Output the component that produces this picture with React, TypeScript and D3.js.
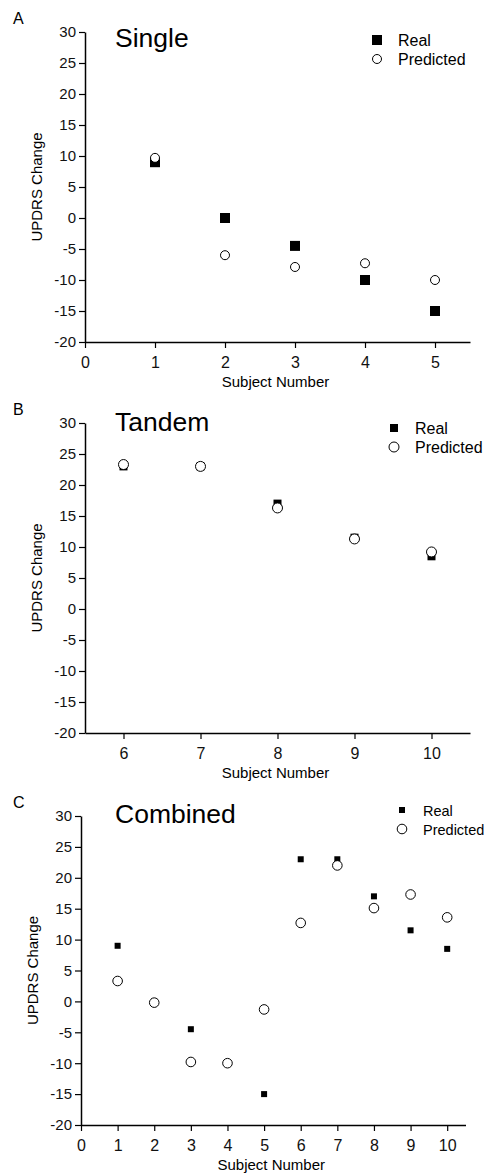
import React, { useEffect, useRef } from 'react';
import * as d3 from 'd3';

// values
const subjectsA = [1, 2, 3, 4, 5];
const realA = [9, 0, -4.5, -10, -15];
const predictedA = [9.7, -6, -7.9, -7.3, -10];

const subjectsB = [6, 7, 8, 9, 10];
const realB = [23, 23, 17, 11.5, 8.5];
const predictedB = [23.3, 23, 16.3, 11.3, 9.2];

const subjectsC = [1, 2, 3, 4, 5, 6, 7, 8, 9, 10];
const realC = [9, 0, -4.5, -10, -15, 23, 23, 17, 11.5, 8.5];
const predictedC = [3.3, -0.2, -9.8, -10, -1.3, 12.7, 22, 15.1, 17.3, 13.6];

const yTicks = [30, 25, 20, 15, 10, 5, 0, -5, -10, -15, -20];

const panels = [
    {
        letter: 'A', title: 'Single', subjects: subjectsA, real: realA, predicted: predictedA,
        xDomain: [0, 5.5], xTicks: [0, 1, 2, 3, 4, 5], left: 85, right: 470, top: 32, bottom: 342,
        sq: 10, r: 4.5, legendX: 377, legendY: 40, titleY: 47, legendFont: 16,
    },
    {
        letter: 'B', title: 'Tandem', subjects: subjectsB, real: realB, predicted: predictedB,
        xDomain: [5.5, 10.5], xTicks: [6, 7, 8, 9, 10], left: 85, right: 470, top: 423, bottom: 733,
        sq: 8, r: 5, legendX: 394, legendY: 428, titleY: 431, legendFont: 16,
    },
    {
        letter: 'C', title: 'Combined', subjects: subjectsC, real: realC, predicted: predictedC,
        xDomain: [0, 10.5], xTicks: [0, 1, 2, 3, 4, 5, 6, 7, 8, 9, 10], left: 81, right: 465.5, top: 816, bottom: 1125,
        sq: 6, r: 4.8, legendX: 402, legendY: 810, titleY: 823, legendFont: 14.5,
    },
];

const App = () => {
    const ref = useRef<SVGSVGElement>(null);

    useEffect(() => {
        const svg = d3.select(ref.current);
        svg.selectAll('*').remove();
        const font = 'Liberation Sans, Arial, sans-serif';
        const fmt = (d: number) => String(d); // plain hyphen minus, no decimals

        panels.forEach(p => {
            const x = d3.scaleLinear().domain(p.xDomain).range([p.left, p.right]);
            const y = d3.scaleLinear().domain([-20, 30]).range([p.bottom, p.top]);
            const g = svg.append('g').attr('font-family', font);

            // y axis
            const yAxis = d3.axisLeft(y).tickValues(yTicks).tickFormat(fmt).tickSize(6).tickSizeOuter(0);
            const gy = g.append('g').attr('transform', `translate(${p.left},0)`).call(yAxis);
            gy.select('.domain').attr('stroke-width', 1.5);
            gy.selectAll('line').attr('stroke-width', 1.2);
            gy.selectAll('text').attr('font-size', 15).attr('font-family', font).attr('fill', '#111');

            // x axis
            const xAxis = d3.axisBottom(x).tickValues(p.xTicks).tickFormat(fmt).tickSize(6).tickSizeOuter(0);
            const gx = g.append('g').attr('transform', `translate(0,${p.bottom})`).call(xAxis);
            gx.select('.domain').attr('stroke-width', 1.5);
            gx.selectAll('line').attr('stroke-width', 1.2);
            gx.selectAll('text').attr('font-size', 16).attr('font-family', font).attr('fill', '#111').attr('dy', '1.05em');

            g.append('text')
                .attr('x', (p.left + p.right) / 2 - 2).attr('y', p.bottom + 45)
                .attr('text-anchor', 'middle').attr('font-size', 15).text('Subject Number');

            g.append('text')
                .attr('transform', `translate(${p.left - 43},${(p.top + p.bottom) / 2}) rotate(-90)`)
                .attr('text-anchor', 'middle').attr('font-size', 15).text('UPDRS Change');

            g.append('text').attr('x', 13).attr('y', p.top - 8)
                .attr('font-size', 16).text(p.letter);

            g.append('text').attr('x', 115).attr('y', p.titleY)
                .attr('font-size', 26.5).text(p.title);

            // real (squares)
            g.selectAll('.real').data(p.subjects).enter().append('rect')
                .attr('x', (d: number) => x(d) - p.sq / 2)
                .attr('y', (d: number, i: number) => y(p.real[i]) - p.sq / 2)
                .attr('width', p.sq).attr('height', p.sq).attr('fill', '#000');

            // predicted (open circles)
            g.selectAll('.pred').data(p.subjects).enter().append('circle')
                .attr('cx', (d: number) => x(d))
                .attr('cy', (d: number, i: number) => y(p.predicted[i]))
                .attr('r', p.r).attr('fill', '#fff').attr('stroke', '#000').attr('stroke-width', 1);

            // legend
            g.append('rect').attr('x', p.legendX - p.sq / 2).attr('y', p.legendY - p.sq / 2)
                .attr('width', p.sq).attr('height', p.sq).attr('fill', '#000');
            g.append('circle').attr('cx', p.legendX).attr('cy', p.legendY + 19)
                .attr('r', p.r).attr('fill', '#fff').attr('stroke', '#000');
            g.append('text').attr('x', p.legendX + 21).attr('y', p.legendY + 5.5)
                .attr('font-size', p.legendFont).text('Real');
            g.append('text').attr('x', p.legendX + 21).attr('y', p.legendY + 24.5)
                .attr('font-size', p.legendFont).text('Predicted');
        });
    }, []);

    return (
        <svg ref={ref} width={486} height={1174}
            style={{ position: 'absolute', left: 0, top: 0, background: '#fff' }} />
    );
};

export default App;
